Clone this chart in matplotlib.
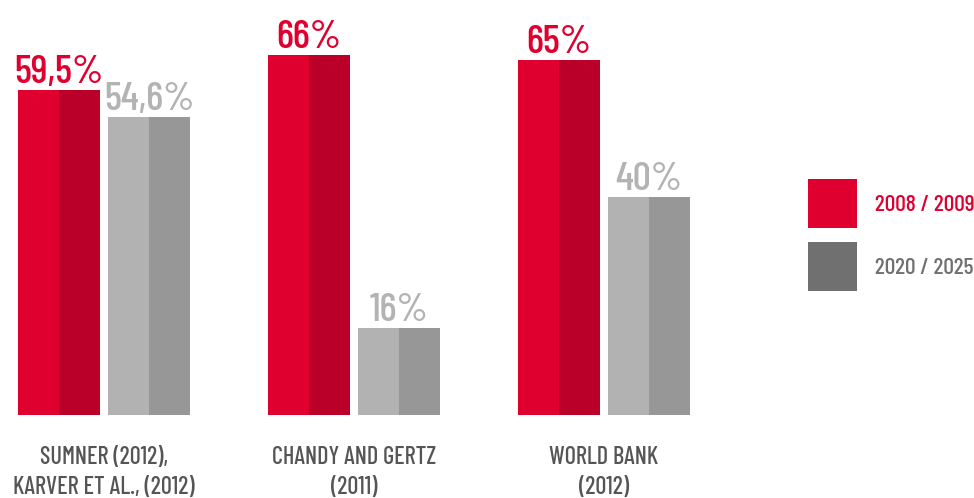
import matplotlib
matplotlib.use("Agg")
import matplotlib.pyplot as plt
from matplotlib import font_manager
from matplotlib.patches import Patch
import numpy as np

categories = ["SUMNER (2012),\nKARVER ET AL., (2012)", "CHANDY AND GERTZ\n(2011)", "WORLD BANK\n(2012)"]
series_names = ["2008 / 2009", "2020 / 2025"]
vals_2008 = [59.5, 66, 65]
vals_2020 = [54.6, 16, 40]
labels_2008 = ["59,5%", "66%", "65%"]
labels_2020 = ["54,6%", "16%", "40%"]

# condensed DIN-like font, first one that is installed
names = {f.name for f in font_manager.fontManager.ttflist}
wanted = ["Barlow Condensed", "Roboto Condensed", "Oswald"]
fam = [n for n in wanted if n in names][:1] + ["DejaVu Sans"]
plt.rcParams["font.family"] = fam
plt.rcParams["font.weight"] = 500

red_l, red_r = "#df0030", "#ba0029"
gray_l, gray_r = "#b2b2b2", "#979797"
red_txt, gray_txt = "#df0030", "#b3b3b3"
leg_gray = "#707070"
cat_color = "#555555"

fig = plt.figure(figsize=(9.74, 4.98), dpi=100)
ax = fig.add_axes([0, 0, 1, 1])

x = np.arange(len(categories))
w = 0.328
off = 0.18

def two_tone(xc, vals, cl, cr):
    ax.bar(xc - w / 4, vals, width=w / 2, color=cl, linewidth=0)
    ax.bar(xc + w / 4, vals, width=w / 2, color=cr, linewidth=0)

two_tone(x - off, vals_2008, red_l, red_r)
two_tone(x + off, vals_2020, gray_l, gray_r)

for xi, v, lab in zip(x - off, vals_2008, labels_2008):
    ax.annotate(lab, (xi, v), xytext=(0, 5), textcoords="offset points",
                ha="center", va="baseline", fontsize=29, color=red_txt)
for xi, v, lab in zip(x + off, vals_2020, labels_2020):
    ax.annotate(lab, (xi, v), xytext=(0, 5), textcoords="offset points",
                ha="center", va="baseline", fontsize=29, color=gray_txt)

for xi, cat in zip(x, categories):
    ax.text(xi, -5.7, cat, ha="center", va="top", fontsize=17.5,
            color=cat_color, linespacing=1.4)

ax.set_xlim(-0.416, 3.48)
ax.set_ylim(-15.2, 76.0)
ax.axis("off")

handles = [Patch(facecolor=red_l, edgecolor="none"), Patch(facecolor=leg_gray, edgecolor="none")]
fig.legend(handles, series_names, loc="upper left", bbox_to_anchor=(0.8296, 0.6406),
           frameon=False, fontsize=17, handlelength=2.08, handleheight=2.82,
           labelspacing=0.59, handletextpad=0.74, borderpad=0, borderaxespad=0,
           labelcolor=[red_txt, leg_gray])

fig.savefig("out.png", dpi=100)
